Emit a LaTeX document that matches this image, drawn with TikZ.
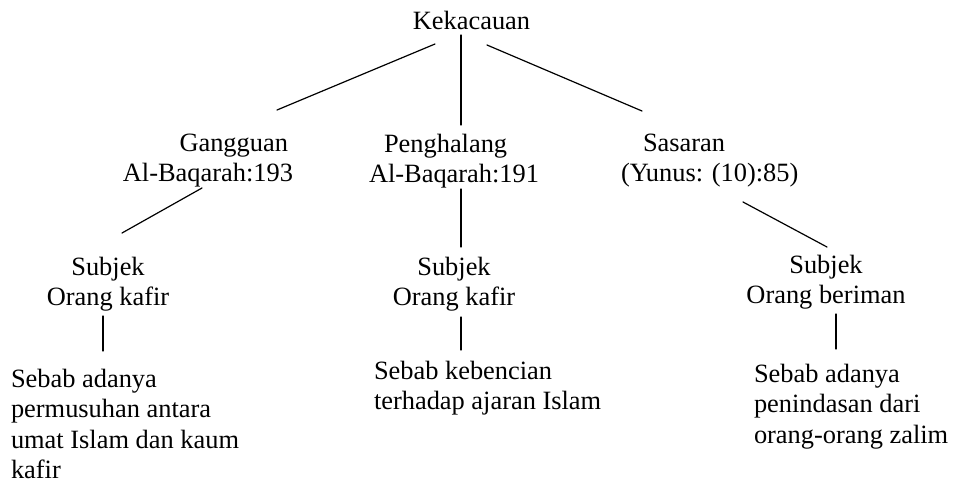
\documentclass[tikz,border=0pt]{standalone}
\usepackage{fontspec}
\setmainfont{Liberation Serif}
\usepackage{tikz}
\usetikzlibrary{calc}
\tikzset{
  term/.style={inner sep=0pt, outer sep=0pt, font=\fontsize{13.2}{15.25}\selectfont},
  branch/.style={line width=0.6pt, line cap=round}
}

\begin{document}
\begin{tikzpicture}[x=0.5pt, y=-0.5pt]
		\useasboundingbox (0,0) rectangle (955,483);
		% akar
		\node[term, anchor=north] (kek) at (471.5,11) {Kekacauan};
		% tingkat kedua
		\node[term, anchor=north east, align=right] (gang) at (293,134) {Gangguan\hspace*{2.5pt}\\Al-Baqarah:193};
		\node[term, anchor=north west, align=left] (peng) at (369,134) {\hspace*{7.5pt}Penghalang\\Al-Baqarah:191};
		\node[term, anchor=north west, align=left] (sas) at (621,134) {\hspace*{11pt}Sasaran\\(Yunus: (10):85)};
		% subjek
		\node[term, anchor=north, align=center] (subl) at (108,257) {Subjek\\Orang kafir};
		\node[term, anchor=north, align=center] (subm) at (454,257) {Subjek\\Orang kafir};
		\node[term, anchor=north, align=center] (subr) at (826,255) {Subjek\\Orang beriman};
		% sebab
		\node[term, anchor=north west, align=left] (sebl) at (11,369) {Sebab adanya\\permusuhan antara\\umat Islam dan kaum\\kafir};
		\node[term, anchor=north west, align=left] (sebm) at (374,361) {Sebab kebencian\\terhadap ajaran Islam};
		\node[term, anchor=north west, align=left] (sebr) at (754,364) {Sebab adanya\\penindasan dari\\orang-orang zalim};
		
		% garis
		\draw[branch] ($(kek.north)+(-36.5,33)$) -- ($(gang.north east)+(-16,-24)$);
		\draw[branch] ($(kek.north)+(-10.5,24)$) -- ($(peng.north west)+(92,-9)$);
		\draw[branch] ($(kek.north)+(15.5,34)$) -- ($(sas.north west)+(21,-23)$);
		\draw[branch] ($(gang.north east)+(-91,54)$) -- ($(subl.north)+(14,-24)$);
		\draw[branch] ($(peng.north west)+(92,55)$) -- ($(subm.north)+(7,-10)$);
		\draw[branch] ($(sas.north west)+(122,68)$) -- ($(subr.north)+(1,-8)$);
		\draw[branch] ($(subl.north)+(-5,59)$) -- ($(sebl.north west)+(92,-18)$);
		\draw[branch] ($(subm.north)+(7,60)$) -- ($(sebm.north west)+(87,-11)$);
		\draw[branch] ($(subr.north)+(10,59)$) -- ($(sebr.north west)+(82,-15)$);
	\end{tikzpicture}
\end{document}
